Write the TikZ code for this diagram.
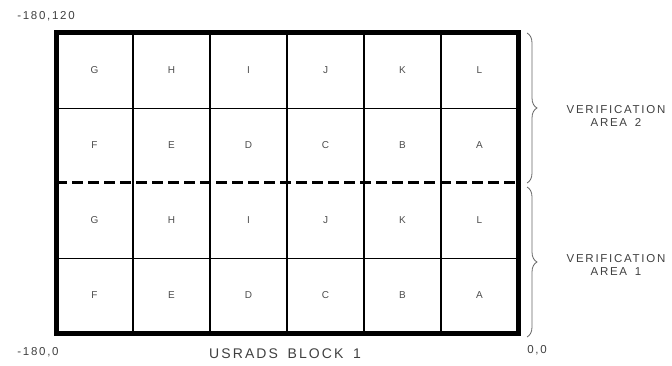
\documentclass[tikz,border=0pt]{standalone}
\usepackage{fontspec}
\setmainfont{Liberation Sans}[LetterSpace=15, WordSpace=1.6]
\usetikzlibrary{decorations.pathreplacing}
\begin{document}
\begin{tikzpicture}[x=1pt,y=-1pt,
  cell/.style={font=\fontsize{10}{11}\selectfont, text=black!70},
  lab/.style={font=\fontsize{11.5}{13}\selectfont, text=black!75},
  brc/.style={draw=black!60, line width=0.8pt, decorate, decoration={brace, amplitude=10pt}}]
\useasboundingbox (0,0) rectangle (672,366);
% grid lines
\foreach \x in {133,210,287,364,441}
  \draw[line width=2.8pt] (\x,33) -- (\x,333);
\draw[line width=0.8pt] (56,108) -- (518,108);
\draw[line width=0.8pt] (56,258) -- (518,258);
\draw[line width=3pt, dash pattern=on 11pt off 5pt] (56,183) -- (518,183);
\draw[line width=5pt] (56,33) rectangle (518,333);
% cell letters
\foreach \l [count=\i] in {G,H,I,J,K,L}{
  \node[cell] (t\l) at ({56+77*(\i-0.5)},70) {\l};
  \node[cell] (b\l) at ({56+77*(\i-0.5)},220) {\l};
}
\foreach \l [count=\i] in {F,E,D,C,B,A}{
  \node[cell] (t\l) at ({56+77*(\i-0.5)},145) {\l};
  \node[cell] (b\l) at ({56+77*(\i-0.5)},295) {\l};
}
% braces
\coordinate (u1) at (527,33);
\coordinate (u2) at (527,183);
\coordinate (d1) at (527,187);
\coordinate (d2) at (527,337);
\draw[brc] (u1) -- (u2);
\draw[brc] (d1) -- (d2);
\node[lab, align=center, inner sep=0pt] (va2) at (616,116) {VERIFICATION\\AREA 2};
\node[lab, align=center, inner sep=0pt] (va1) at (616,265) {VERIFICATION\\AREA 1};
% corner labels
\node[lab] (c1) at (46,16) {-180,120};
\node[lab] (c2) at (38,352) {-180,0};
\node[lab] (c3) at (537,350) {0,0};
\node[font=\fontsize{14}{15}\selectfont, text=black!75] (title) at (285,354) {USRADS BLOCK 1};
\end{tikzpicture}
\end{document}
